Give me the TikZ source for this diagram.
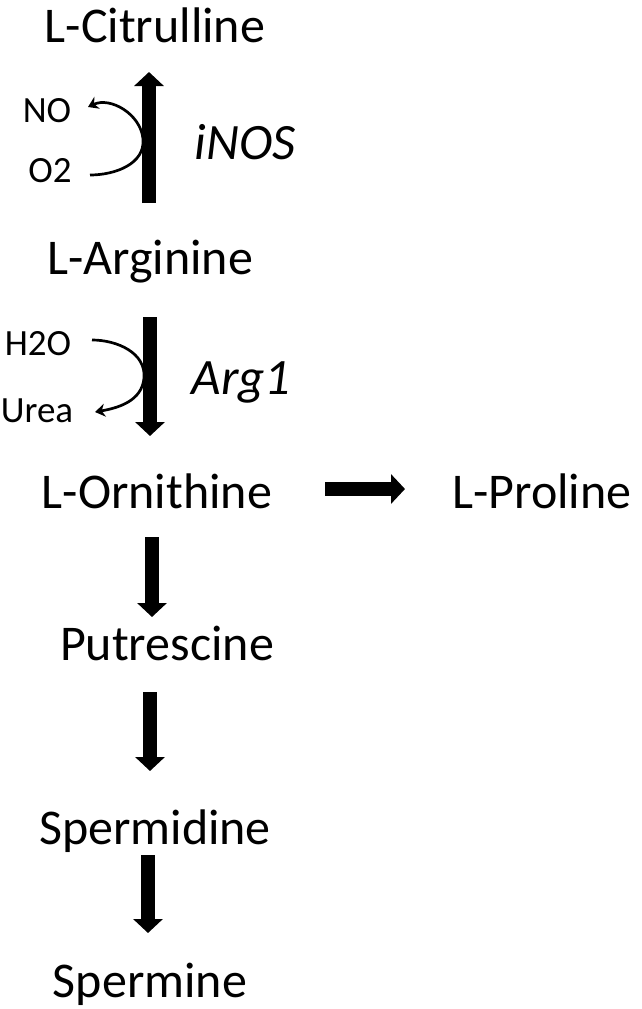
\documentclass[tikz,border=0pt]{standalone}
\usepackage{fontspec}
\setmainfont{Carlito}
\usetikzlibrary{arrows.meta,calc}
\begin{document}
\begin{tikzpicture}[x=1pt,y=-1pt,
  lbl/.style={font=\fontsize{50}{60}\selectfont, inner sep=0pt, anchor=base},
  enz/.style={font=\fontsize{51}{60}\selectfont\itshape, inner sep=0pt, anchor=base},
  small/.style={font=\fontsize{37}{42}\selectfont, inner sep=0pt, anchor=base},
  bigarrow/.style={line width=13.5pt, -{Triangle[width=29pt,length=14pt]}},
  thinarrow/.style={line width=2.7pt, -{Stealth[width=13pt,length=10pt]}}]
\useasboundingbox (0,0) rectangle (642,1009);
% metabolites
\node[lbl] (cit) at (155,42) {L-Citrulline};
\node[lbl] (arg) at (150,274) {L-Arginine};
\node[lbl] (orn) at (157,508) {L-Ornithine};
\node[lbl] (pro) at (542,508) {L-Proline};
\node[lbl] (put) at (167,660) {Putrescine};
\node[lbl] (spd) at (155,844) {Spermidine};
\node[lbl] (spm) at (150,997) {Spermine};
% enzymes
\node[enz] (inos) at (245,159) {iNOS};
\node[enz] (arg1) at (241,394) {Arg1};
% cofactors
\node[small] (no) at (47,122) {NO};
\node[small] (o2) at (50,182) {O2};
\node[small] (h2o) at (38,355) {H2O};
\node[small] (urea) at (37,422) {Urea};
% arrow end points
\coordinate (a1s) at (149,203);
\coordinate (a1e) at (149,72);
\coordinate (a2s) at (150,317);
\coordinate (a2e) at (150,436);
\coordinate (a3s) at (325,489);
\coordinate (a3e) at (405,489);
\coordinate (a4s) at (152,537);
\coordinate (a4e) at (152,617);
\coordinate (a5s) at (150,692);
\coordinate (a5e) at (150,771);
\coordinate (a6s) at (148,855);
\coordinate (a6e) at (148,933);
\draw[bigarrow] (a1s) -- (a1e);
\draw[bigarrow] (a2s) -- (a2e);
\draw[bigarrow] (a3s) -- (a3e);
\draw[bigarrow] (a4s) -- (a4e);
\draw[bigarrow] (a5s) -- (a5e);
\draw[bigarrow] (a6s) -- (a6e);
% side reactions
\coordinate (o2e) at (90,175);
\coordinate (noe) at (88,107);
\coordinate (t1) at (143,139);
\coordinate (h2oe) at (92,340);
\coordinate (ureae) at (95,412);
\coordinate (t2) at (144,378);
\draw[thinarrow] (o2e) to[out=0,in=-85] (t1) to[out=95,in=25] (noe);
\draw[thinarrow] (h2oe) to[out=0,in=85] (t2) to[out=-95,in=10] (ureae);
\end{tikzpicture}
\end{document}
